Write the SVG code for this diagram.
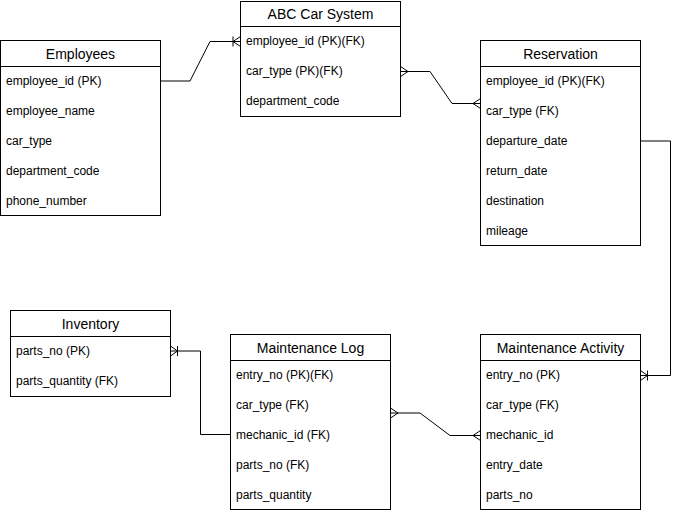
<svg xmlns="http://www.w3.org/2000/svg" width="681" height="514" viewBox="0 0 681 514">
<style>
.box{fill:#fff;stroke:#000;stroke-width:1}
.hl{stroke:#000;stroke-width:1;fill:none}
.t{font-family:"Liberation Sans",Arial,sans-serif;font-size:14px;fill:#000;text-anchor:middle}
.r{font-family:"Liberation Sans",Arial,sans-serif;font-size:12px;fill:#000}
.c{fill:none;stroke:#000;stroke-width:1}
</style>
<rect width="681" height="514" fill="#fff"/>
<g id="connectors">
  <path class="c" d="M160.5 81 H190 L210 41.5 H240.5"/>
  <path class="c" d="M233 36.5 V46.5 M240.5 36.5 L233 41.5 L240.5 46.5"/>
  <path class="c" d="M400.5 71.5 H430 L452 103.5 H480.5"/>
  <path class="c" d="M400.5 66.5 L408 71.5 L400.5 76.5"/>
  <path class="c" d="M480.5 98.5 L473 103.5 L480.5 108.5"/>
  <path class="c" d="M640.5 141 H670.5 V375.5 H640.5"/>
  <path class="c" d="M647.5 370.5 V380.5 M640.5 370.5 L647.5 375.5 L640.5 380.5"/>
  <path class="c" d="M230.5 434.5 H200.5 V351 H170.5"/>
  <path class="c" d="M177.5 346 V356 M170.5 346 L177.5 351 L170.5 356"/>
  <path class="c" d="M390.5 413 H420 L450 435.5 H480.5"/>
  <path class="c" d="M390.5 408 L398 413 L390.5 418"/>
  <path class="c" d="M480.5 430.5 L473 435.5 L480.5 440.5"/>
</g>
<g id="employees">
  <rect class="box" x="0.5" y="40.5" width="160" height="175"/>
  <line class="hl" x1="0.5" y1="66.5" x2="160.5" y2="66.5"/>
  <text class="t" x="80.5" y="59">Employees</text>
  <text class="r" x="6" y="85">employee_id (PK)</text>
  <text class="r" x="6" y="115">employee_name</text>
  <text class="r" x="6" y="145">car_type</text>
  <text class="r" x="6" y="175">department_code</text>
  <text class="r" x="6" y="205">phone_number</text>
</g>
<g id="abc-car-system">
  <rect class="box" x="240.5" y="1.5" width="160" height="115"/>
  <line class="hl" x1="240.5" y1="26.5" x2="400.5" y2="26.5"/>
  <text class="t" x="320.5" y="19">ABC Car System</text>
  <text class="r" x="246" y="45">employee_id (PK)(FK)</text>
  <text class="r" x="246" y="75">car_type (PK)(FK)</text>
  <text class="r" x="246" y="105">department_code</text>
</g>
<g id="reservation">
  <rect class="box" x="480.5" y="40.5" width="160" height="205"/>
  <line class="hl" x1="480.5" y1="66.5" x2="640.5" y2="66.5"/>
  <text class="t" x="560.5" y="59">Reservation</text>
  <text class="r" x="486" y="85">employee_id (PK)(FK)</text>
  <text class="r" x="486" y="115">car_type (FK)</text>
  <text class="r" x="486" y="145">departure_date</text>
  <text class="r" x="486" y="175">return_date</text>
  <text class="r" x="486" y="205">destination</text>
  <text class="r" x="486" y="235">mileage</text>
</g>
<g id="inventory">
  <rect class="box" x="10.5" y="310.5" width="160" height="86"/>
  <line class="hl" x1="10.5" y1="336.5" x2="170.5" y2="336.5"/>
  <text class="t" x="90.5" y="329">Inventory</text>
  <text class="r" x="16" y="355">parts_no (PK)</text>
  <text class="r" x="16" y="385">parts_quantity (FK)</text>
</g>
<g id="maintenance-log">
  <rect class="box" x="230.5" y="334.5" width="160" height="175"/>
  <line class="hl" x1="230.5" y1="360.5" x2="390.5" y2="360.5"/>
  <text class="t" x="310.5" y="353">Maintenance Log</text>
  <text class="r" x="236" y="379">entry_no (PK)(FK)</text>
  <text class="r" x="236" y="409">car_type (FK)</text>
  <text class="r" x="236" y="439">mechanic_id (FK)</text>
  <text class="r" x="236" y="469">parts_no (FK)</text>
  <text class="r" x="236" y="499">parts_quantity</text>
</g>
<g id="maintenance-activity">
  <rect class="box" x="480.5" y="334.5" width="160" height="175"/>
  <line class="hl" x1="480.5" y1="360.5" x2="640.5" y2="360.5"/>
  <text class="t" x="560.5" y="353">Maintenance Activity</text>
  <text class="r" x="486" y="379">entry_no (PK)</text>
  <text class="r" x="486" y="409">car_type (FK)</text>
  <text class="r" x="486" y="439">mechanic_id</text>
  <text class="r" x="486" y="469">entry_date</text>
  <text class="r" x="486" y="499">parts_no</text>
</g>
</svg>
